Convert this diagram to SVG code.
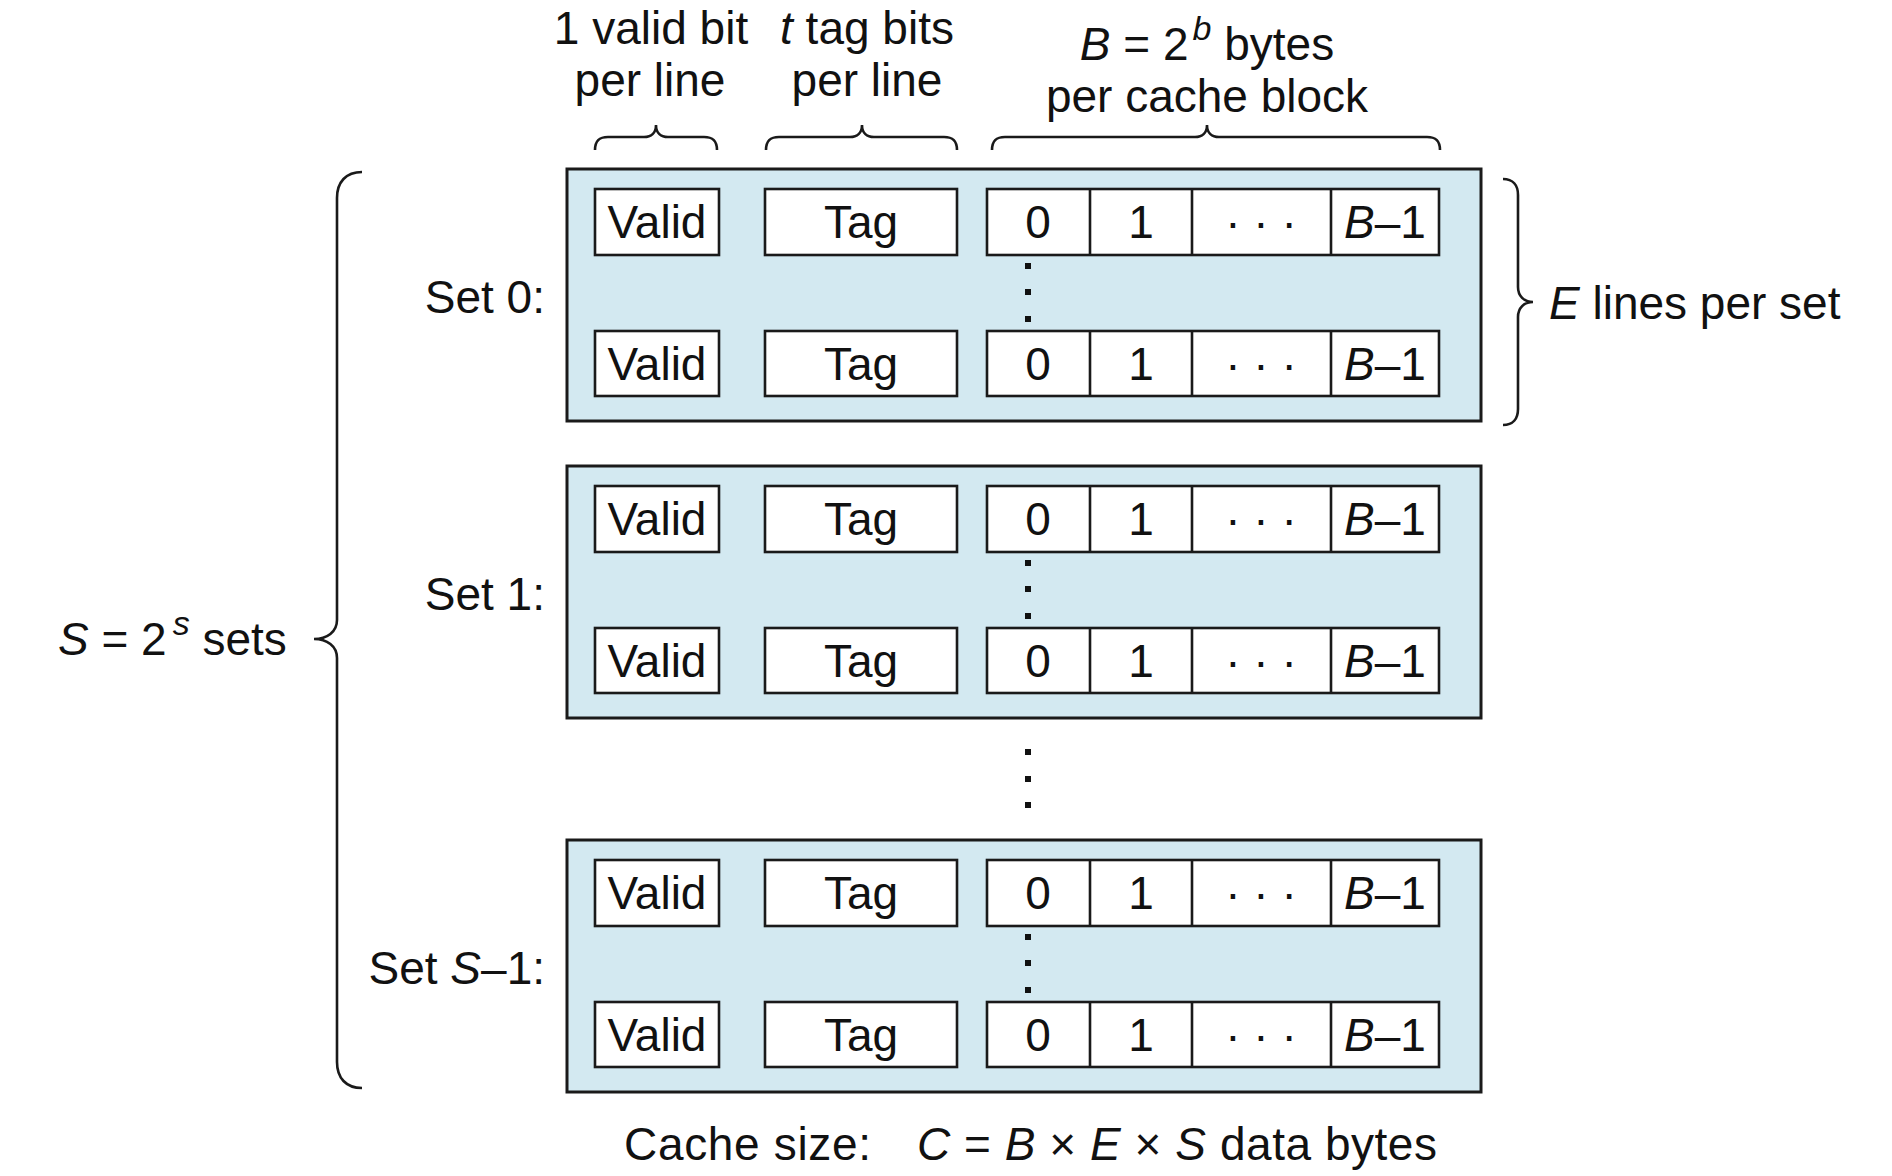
<svg xmlns="http://www.w3.org/2000/svg" width="1892" height="1176" viewBox="0 0 1892 1176">
<style>
text{font-family:"Liberation Sans",Arial,Helvetica,sans-serif;font-size:46px;fill:#111}
.c{text-anchor:middle}
.r{text-anchor:end}
.i{font-style:italic}
.sup{font-size:34px;font-style:italic}
.set{fill:#d3e9f1;stroke:#1a1a1a;stroke-width:3}
.cell{fill:#fff;stroke:#1a1a1a;stroke-width:2.6}
.div{stroke:#1a1a1a;stroke-width:2.6}
.brace{fill:none;stroke:#1a1a1a;stroke-width:2.6}
.dot{fill:#111}
</style>
<rect width="1892" height="1176" fill="#fff"/>

<g id="header-labels">
<text class="c" x="651" y="44">1 valid bit</text>
<text class="c" x="650" y="96">per line</text>
<text class="c" x="867" y="44"><tspan class="i">t</tspan> tag bits</text>
<text class="c" x="867" y="96">per line</text>
<text class="c" x="1207" y="60"><tspan class="i">B</tspan> = 2<tspan class="sup" dx="4" dy="-20">b</tspan><tspan dy="20"> bytes</tspan></text>
<text class="c" x="1207" y="112">per cache block</text>
</g>

<g id="connectors">
<path class="brace" d="M595,150 C595,140 600,137 608,137 L644,137 C651,137 656,133 656,125 C656,133 661,137 668,137 L704,137 C712,137 717,140 717,150"/>
<path class="brace" d="M766,150 C766,140 771,137 779,137 L850,137 C857,137 862,133 862,125 C862,133 867,137 874,137 L944,137 C952,137 957,140 957,150"/>
<path class="brace" d="M992,150 C992,140 997,137 1005,137 L1195,137 C1202,137 1207,133 1207,125 C1207,133 1212,137 1219,137 L1427,137 C1435,137 1440,140 1440,150"/>
<path class="brace" d="M1503,179 C1513,179 1518,185 1518,195 L1518,287 C1518,296 1524,302 1533,302 C1524,302 1518,308 1518,317 L1518,409 C1518,419 1513,425 1503,425"/>
<path class="brace" d="M362,172 C346,172 337,182 337,198 L337,620 C337,632 327,639 314,639 C327,639 337,646 337,658 L337,1062 C337,1078 346,1088 362,1088"/>
</g>

<g id="label-E">
<text x="1549" y="319"><tspan class="i">E</tspan> lines per set</text>
</g>
<g id="label-S">
<text x="58" y="655"><tspan class="i">S</tspan> = 2<tspan class="sup" dx="6" dy="-20">s</tspan><tspan dy="20"> sets</tspan></text>
</g>

<g id="set0">
<text class="r" x="545" y="313">Set 0:</text>
<rect class="set" x="567" y="169" width="914" height="252"/>
<rect class="cell" x="595" y="189" width="124" height="66"/>
<rect class="cell" x="765" y="189" width="192" height="66"/>
<rect class="cell" x="987" y="189" width="452" height="66"/>
<path class="div" d="M1090,189V255M1192,189V255M1331,189V255"/>
<text class="c" x="657" y="238">Valid</text>
<text class="c" x="861" y="238">Tag</text>
<text class="c" x="1038" y="238">0</text>
<text class="c" x="1141" y="238">1</text>
<text class="c" x="1261" y="238">· · ·</text>
<text class="c" x="1385" y="238"><tspan class="i">B</tspan>–1</text>
<rect class="dot" x="1025" y="263" width="6" height="6"/>
<rect class="dot" x="1025" y="289" width="6" height="6"/>
<rect class="dot" x="1025" y="316" width="6" height="6"/>
<rect class="cell" x="595" y="331" width="124" height="65"/>
<rect class="cell" x="765" y="331" width="192" height="65"/>
<rect class="cell" x="987" y="331" width="452" height="65"/>
<path class="div" d="M1090,331V396M1192,331V396M1331,331V396"/>
<text class="c" x="657" y="380">Valid</text>
<text class="c" x="861" y="380">Tag</text>
<text class="c" x="1038" y="380">0</text>
<text class="c" x="1141" y="380">1</text>
<text class="c" x="1261" y="380">· · ·</text>
<text class="c" x="1385" y="380"><tspan class="i">B</tspan>–1</text>
</g>

<g id="set1">
<text class="r" x="545" y="610">Set 1:</text>
<rect class="set" x="567" y="466" width="914" height="252"/>
<rect class="cell" x="595" y="486" width="124" height="66"/>
<rect class="cell" x="765" y="486" width="192" height="66"/>
<rect class="cell" x="987" y="486" width="452" height="66"/>
<path class="div" d="M1090,486V552M1192,486V552M1331,486V552"/>
<text class="c" x="657" y="535">Valid</text>
<text class="c" x="861" y="535">Tag</text>
<text class="c" x="1038" y="535">0</text>
<text class="c" x="1141" y="535">1</text>
<text class="c" x="1261" y="535">· · ·</text>
<text class="c" x="1385" y="535"><tspan class="i">B</tspan>–1</text>
<rect class="dot" x="1025" y="560" width="6" height="6"/>
<rect class="dot" x="1025" y="586" width="6" height="6"/>
<rect class="dot" x="1025" y="613" width="6" height="6"/>
<rect class="cell" x="595" y="628" width="124" height="65"/>
<rect class="cell" x="765" y="628" width="192" height="65"/>
<rect class="cell" x="987" y="628" width="452" height="65"/>
<path class="div" d="M1090,628V693M1192,628V693M1331,628V693"/>
<text class="c" x="657" y="677">Valid</text>
<text class="c" x="861" y="677">Tag</text>
<text class="c" x="1038" y="677">0</text>
<text class="c" x="1141" y="677">1</text>
<text class="c" x="1261" y="677">· · ·</text>
<text class="c" x="1385" y="677"><tspan class="i">B</tspan>–1</text>
</g>

<g id="between-sets">
<rect class="dot" x="1025" y="749" width="6" height="6"/>
<rect class="dot" x="1025" y="776" width="6" height="6"/>
<rect class="dot" x="1025" y="802" width="6" height="6"/>
</g>

<g id="setS-1">
<text class="r" x="545" y="984">Set <tspan class="i">S</tspan>–1:</text>
<rect class="set" x="567" y="840" width="914" height="252"/>
<rect class="cell" x="595" y="860" width="124" height="66"/>
<rect class="cell" x="765" y="860" width="192" height="66"/>
<rect class="cell" x="987" y="860" width="452" height="66"/>
<path class="div" d="M1090,860V926M1192,860V926M1331,860V926"/>
<text class="c" x="657" y="909">Valid</text>
<text class="c" x="861" y="909">Tag</text>
<text class="c" x="1038" y="909">0</text>
<text class="c" x="1141" y="909">1</text>
<text class="c" x="1261" y="909">· · ·</text>
<text class="c" x="1385" y="909"><tspan class="i">B</tspan>–1</text>
<rect class="dot" x="1025" y="934" width="6" height="6"/>
<rect class="dot" x="1025" y="960" width="6" height="6"/>
<rect class="dot" x="1025" y="987" width="6" height="6"/>
<rect class="cell" x="595" y="1002" width="124" height="65"/>
<rect class="cell" x="765" y="1002" width="192" height="65"/>
<rect class="cell" x="987" y="1002" width="452" height="65"/>
<path class="div" d="M1090,1002V1067M1192,1002V1067M1331,1002V1067"/>
<text class="c" x="657" y="1051">Valid</text>
<text class="c" x="861" y="1051">Tag</text>
<text class="c" x="1038" y="1051">0</text>
<text class="c" x="1141" y="1051">1</text>
<text class="c" x="1261" y="1051">· · ·</text>
<text class="c" x="1385" y="1051"><tspan class="i">B</tspan>–1</text>
</g>

<g id="caption">
<text x="624" y="1160" textLength="247">Cache size:</text>
<text x="917" y="1160" textLength="520"><tspan class="i">C</tspan> = <tspan class="i">B</tspan> × <tspan class="i">E</tspan> × <tspan class="i">S</tspan> data bytes</text>
</g>
</svg>
